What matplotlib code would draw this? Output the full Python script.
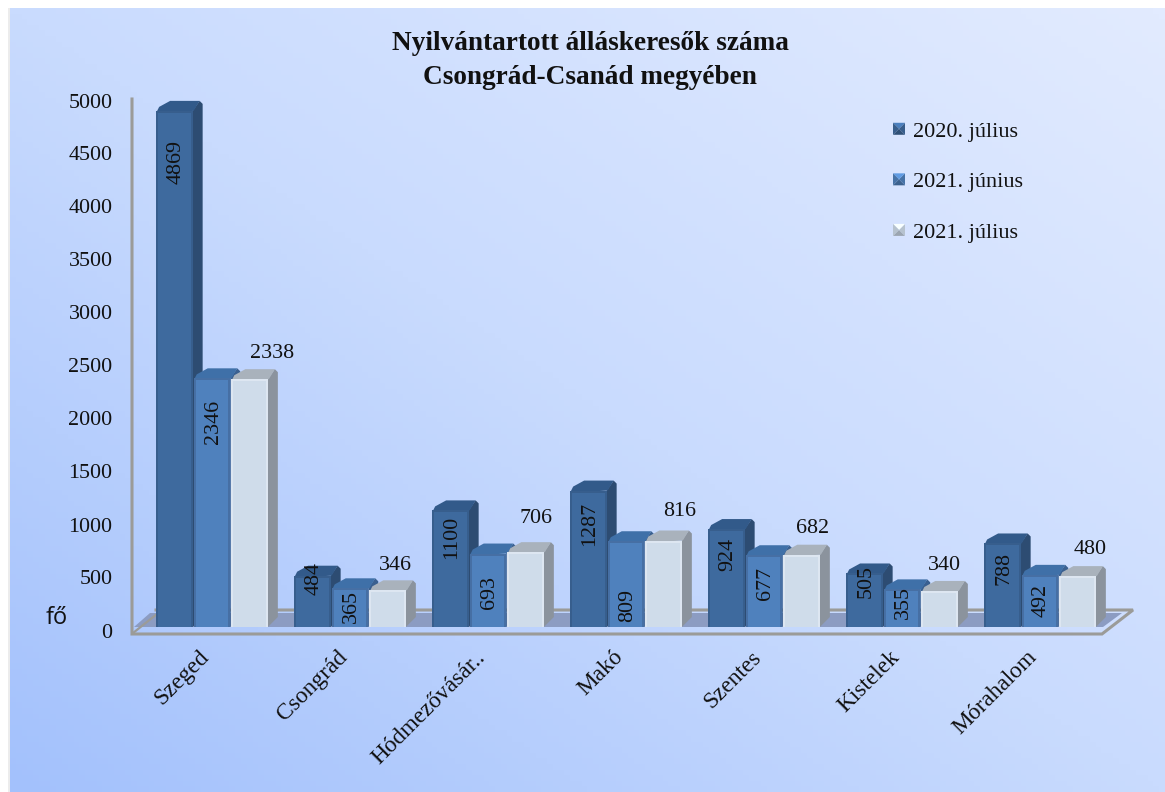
import numpy as np
import matplotlib
matplotlib.use("Agg")
import matplotlib.pyplot as plt
from matplotlib.colors import LinearSegmentedColormap
from matplotlib.legend_handler import HandlerBase
from matplotlib.patches import Polygon, Patch, Rectangle

plt.rcParams['font.family'] = ['Liberation Serif', 'DejaVu Serif']

categories = ["Szeged", "Csongrád", "Hódmezővásár..", "Makó", "Szentes", "Kistelek", "Mórahalom"]
series_names = ["2020. július", "2021. június", "2021. július"]
values_2020_jul = [4869, 484, 1100, 1287, 924, 505, 788]
values_2021_jun = [2346, 365, 693, 809, 677, 355, 492]
values_2021_jul = [2338, 346, 706, 816, 682, 340, 480]
y_ticks = [0, 500, 1000, 1500, 2000, 2500, 3000, 3500, 4000, 4500, 5000]

W, H, DPI = 1165, 792, 100
series = [values_2020_jul, values_2021_jun, values_2021_jul]
front = ["#3e6a9e", "#4f81bd", "#cfdcea"]
edge = ["#375e8d", "#466fa4", "#dde6f1"]
side = ["#2d4c72", "#3a6090", "#8b939d"]
top = ["#325a8a", "#3f70a8", "#a9b2bc"]

# label placement, px below the value height for rotated labels
rot_down = [
    [51, 3, 27, 33, 25, 8, 25],
    [44, 18, 39, 64, 28, 13, 26],
]
# label placement for the third series: px right of bar centre, px above value
flat_right = [22, 8, 10, 16, 11, 5, 13]
flat_up = [26, 25, 34, 29, 26, 25, 27]

fig = plt.figure(figsize=(W / DPI, H / DPI), dpi=DPI, facecolor="white")

bg = fig.add_axes([0, 0, 1, 1], zorder=0)
bg.axis("off")
xx, yy = np.meshgrid(np.linspace(0, 1, 200), np.linspace(0, 1, 140))
grad = (xx + yy) / 2
cmap = LinearSegmentedColormap.from_list("bg", ["#a3c1fc", "#c9dbfe", "#e2ebff"])
bg.imshow(grad, cmap=cmap, extent=(10, W, H, 8), origin="lower", aspect="auto", vmin=0, vmax=1)
bg.set_xlim(0, W)
bg.set_ylim(H, 0)
bg.add_patch(Rectangle((8, 8), 2, H, fc="#ececec", ec="none"))

grey = "#9b9b98"
bg.add_patch(Polygon([(150, 613), (1122, 613), (1103, 627), (134, 627)], fc="#8c9cc2", ec="none"))
bg.plot([132, 132, 1102, 1133, 156], [99, 634, 634, 610, 610], color=grey, lw=2.2, solid_joinstyle="miter")
bg.plot([133, 157], [633, 614], color=grey, lw=1.6)

bg.text(590, 43, "Nyilvántartott álláskeresők száma", ha="center", va="center", fontsize=19.6, fontweight="bold", color="#111111")
bg.text(590, 77, "Csongrád-Csanád megyében", ha="center", va="center", fontsize=19.6, fontweight="bold", color="#111111")
bg.text(57, 618, "fő", ha="center", va="center", fontsize=17, family=["Open Sans", "DejaVu Sans"], color="#111111")

# y tick labels sit 3.5 px below the bar scale in the reference
tick_ax = fig.add_axes([132 / W, 1 - 630.5 / H, 970 / W, 530 / H], zorder=1)
tick_ax.patch.set_alpha(0)
tick_ax.set_ylim(0, 5000)
tick_ax.set_xticks([])
tick_ax.set_yticks(y_ticks)
tick_ax.tick_params(axis="y", length=0, labelsize=15.8, pad=14, labelcolor="#111111")
for sp in tick_ax.spines.values():
    sp.set_visible(False)

ax = fig.add_axes([132 / W, 1 - 627 / H, 970 / W, 530 / H], zorder=2)
ax.patch.set_alpha(0)
ax.set_xlim((132 - 212) / 138, (1102 - 212) / 138)
ax.set_ylim(0, 5000)
for sp in ax.spines.values():
    sp.set_visible(False)
px_x = 1 / 138
px_y = 5000 / 530
bw = 36.5 * px_x
step = 37.6 * px_x
dx, dy = 10 * px_x, 10 * px_y
xs = np.arange(len(categories))
ax.set_yticks([])
ax.set_xticks(xs)
ax.set_xticklabels([])
ax.tick_params(length=0)

for s, vals in enumerate(series):
    for i, v in enumerate(vals):
        cx = i + (s - 1) * step
        x0, x1 = cx - bw / 2, cx + bw / 2
        ax.add_patch(Polygon([(x1, 0), (x1 + dx, dy), (x1 + dx, v + dy - 3 * px_y),
                              (x1 + dx - 3 * px_x, v + dy), (x1, v)],
                             fc=side[s], ec="none", clip_on=False, zorder=3 + s))
        ax.add_patch(Polygon([(x0, v - 2 * px_y), (x0 + 3 * px_x, v + 4 * px_y), (x0 + dx + 4 * px_x, v + dy),
                              (x1 + dx - 3 * px_x, v + dy), (x1 + 1 * px_x, v)],
                             fc=top[s], ec="none", clip_on=False, zorder=3 + s))
        ax.bar(cx, v, width=bw, color=front[s], linewidth=0, zorder=3.1 + s, clip_on=False)
        ax.bar(x0 + 1 * px_x, v, width=2 * px_x, color=edge[s], linewidth=0, zorder=3.2 + s, clip_on=False)
        ax.bar(x1 - 1 * px_x, v, width=2 * px_x, color=edge[s], linewidth=0, zorder=3.2 + s, clip_on=False)
        ax.bar(cx, 2 * px_y, bottom=v - 2 * px_y, width=bw, color=edge[s], linewidth=0, zorder=3.2 + s, clip_on=False)
        if s < 2:
            ax.annotate(str(v), (cx, v), xytext=(1.5 * 0.72, -rot_down[s][i] * 0.72), textcoords="offset points",
                        rotation=90, ha="center", va="center", fontsize=15.8, color="#111111", zorder=10,
                        annotation_clip=False)
        else:
            ax.annotate(str(v), (cx, v), xytext=(flat_right[i] * 0.72, flat_up[i] * 0.72), textcoords="offset points",
                        ha="center", va="center", fontsize=15.8, color="#111111", zorder=10,
                        annotation_clip=False)

for i, name in enumerate(categories):
    ax.annotate(name, (i, 0), xytext=(-6 * 0.72, -27 * 0.72), textcoords="offset points",
                rotation=45, rotation_mode="anchor", ha="right", va="center", fontsize=16.8, color="#111111",
                annotation_clip=False)


class PyramidHandler(HandlerBase):
    def create_artists(self, legend, orig, xd, yd, w, h, fontsize, trans):
        c = orig.get_facecolor()
        s = 12 * 0.72
        x0, y0 = 0, (h - s) / 2
        m = (x0 + s / 2, y0 + s / 2)
        a, b, cc, d = (x0, y0), (x0 + s, y0), (x0 + s, y0 + s), (x0, y0 + s)
        out = []
        for pts, k in (((a, b, m), 0.75), ((b, cc, m), 0.88), ((cc, d, m), 1.2), ((d, a, m), 0.88)):
            col = np.clip(np.array(c[:3]) * k, 0, 1)
            out.append(Polygon(pts, fc=col, ec="none", transform=trans))
        return out


handles = [Patch(facecolor=c) for c in front]
ax.legend(handles, series_names, handler_map={Patch: PyramidHandler()}, frameon=False,
          bbox_to_anchor=(893 / W, 1 - 121 / H), bbox_transform=fig.transFigure, loc="upper left",
          borderaxespad=0, borderpad=0, fontsize=16, labelspacing=1.35, handlelength=0.74, handletextpad=0.14,
          labelcolor="#111111")

fig.savefig("out.png", dpi=DPI)
